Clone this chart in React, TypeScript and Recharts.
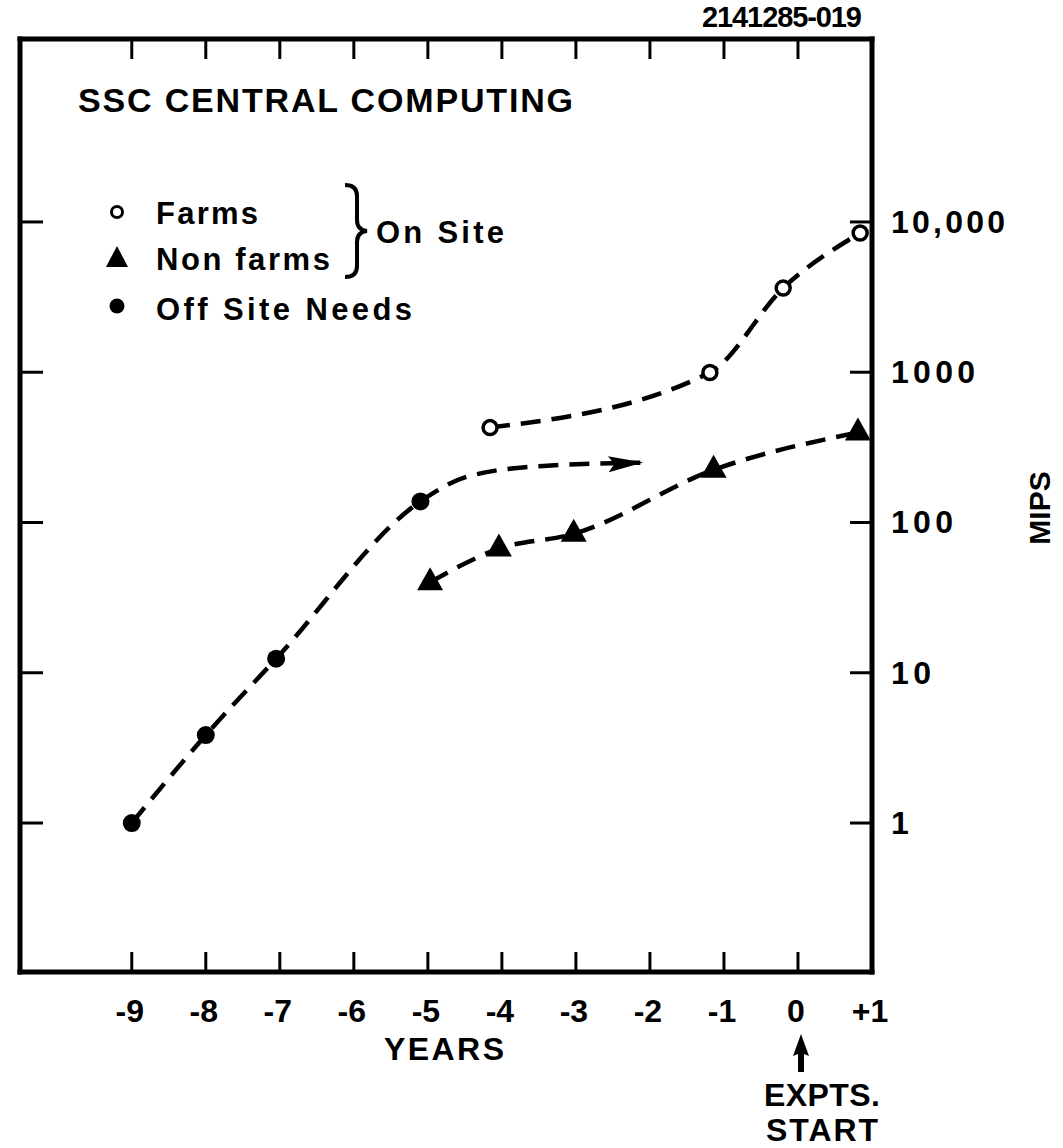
import React from 'react';
import { LineChart, Line, XAxis, YAxis } from 'recharts';

const YEAR_TICKS = [-9, -8, -7, -6, -5, -4, -3, -2, -1, 0, 1];
const YEAR_LABELS = ['-9', '-8', '-7', '-6', '-5', '-4', '-3', '-2', '-1', '0', '+1'];
const MIPS_TICKS = [1, 10, 100, 1000, 10000];
const MIPS_LABELS = ['1', '10', '100', '1000', '10,000'];

const OFF_SITE_YEARS = [-9, -8, -7.05, -5.1, -4.47, -3.44, -2.13];
const OFF_SITE_MIPS = [1, 3.85, 12.4, 138, 202, 238, 250];
const OFF_SITE_MARKS = ['dot', 'dot', 'dot', 'dot', '', '', 'arrow'];

const FARMS_YEARS = [-4.16, -1.19, -0.2, 0.84];
const FARMS_MIPS = [428, 995, 3630, 8440];

const NON_FARMS_YEARS = [-4.97, -4.04, -3.03, -1.14, 0.81];
const NON_FARMS_MIPS = [40, 67, 84, 224, 397];

const W = 1063;
const H = 1148;
const FONT = "'Liberation Sans', Arial, sans-serif";
const INK = '#000';

const offSite = OFF_SITE_YEARS.map((year, i) => ({ year, mips: OFF_SITE_MIPS[i], mark: OFF_SITE_MARKS[i] }));
const farms = FARMS_YEARS.map((year, i) => ({ year, mips: FARMS_MIPS[i], mark: 'ring' }));
const nonFarms = NON_FARMS_YEARS.map((year, i) => ({ year, mips: NON_FARMS_MIPS[i], mark: 'tri' }));

const dash = { stroke: INK, strokeWidth: 4.5, strokeDasharray: '20 11' };

function Marker(props: any) {
  const { cx, cy, payload } = props;
  if (cx == null || cy == null) return null;
  const m = payload?.mark;
  if (m === 'dot') return <circle cx={cx} cy={cy} r={9} fill={INK} />;
  if (m === 'ring') return <circle cx={cx} cy={cy} r={7} fill="#fff" stroke={INK} strokeWidth={3.5} />;
  if (m === 'tri')
    return <polygon points={`${cx},${cy - 15} ${cx + 13},${cy + 8} ${cx - 13},${cy + 8}`} fill={INK} />;
  if (m === 'arrow')
    return (
      <polygon
        points={`${cx + 3},${cy} ${cx - 32},${cy - 8} ${cx - 26},${cy} ${cx - 32},${cy + 8}`}
        fill={INK}
        transform={`rotate(-3 ${cx} ${cy})`}
      />
    );
  return <g />;
}

const txt = { fontFamily: FONT, fontWeight: 700, fill: INK } as const;

function BottomTick(props: any) {
  const { x, y, payload } = props;
  return (
    <g>
      {payload.value !== 1 && <line x1={x} x2={x} y1={y} y2={y - 20} stroke={INK} strokeWidth={3} />}
      <text x={x - 2} y={y + 50} textAnchor="middle" fontSize={32} {...txt}>
        {YEAR_LABELS[YEAR_TICKS.indexOf(payload.value)]}
      </text>
    </g>
  );
}

function TopTick(props: any) {
  const { x, y } = props;
  return <line x1={x} x2={x} y1={y} y2={y + 20} stroke={INK} strokeWidth={3} />;
}

function LeftTick(props: any) {
  const { x, y } = props;
  return <line x1={x} x2={x + 23} y1={y} y2={y} stroke={INK} strokeWidth={3} />;
}

// lettered widths of the right-hand labels (wide, round zeros)
const LABEL_WIDTHS = [0, 40, 62, 84, 114];

function RightTick(props: any) {
  const { x, y, payload } = props;
  const i = MIPS_TICKS.indexOf(payload.value);
  const len = LABEL_WIDTHS[i];
  return (
    <g>
      <line x1={x} x2={x - 22} y1={y} y2={y} stroke={INK} strokeWidth={3} />
      <text
        x={x + 19}
        y={y + 11}
        textAnchor="start"
        fontSize={32}
        {...(len ? { textLength: len, lengthAdjust: 'spacing' } : {})}
        {...txt}
      >
        {MIPS_LABELS[i]}
      </text>
    </g>
  );
}

const frame = { stroke: INK, strokeWidth: 5, strokeLinecap: 'square' as const };
const X_DOMAIN: [number, number] = [-10.51, 1.0];
const Y_DOMAIN: [number, number] = [0.102, 165000];

export default function App() {
  return (
    <div style={{ position: 'absolute', left: 0, top: 0, width: W, height: H, background: '#fff' }}>
      <LineChart width={W} height={H} margin={{ top: 38, left: 19, right: 190, bottom: 175 }}>
        <XAxis
          xAxisId="b"
          dataKey="year"
          type="number"
          domain={X_DOMAIN}
          allowDataOverflow
          ticks={YEAR_TICKS}
          interval={0}
          height={1}
          tickSize={0}
          tickMargin={0}
          axisLine={frame}
          tick={<BottomTick />}
        />
        <XAxis
          xAxisId="t"
          orientation="top"
          dataKey="year"
          type="number"
          domain={X_DOMAIN}
          allowDataOverflow
          ticks={YEAR_TICKS.slice(0, 10)}
          interval={0}
          height={1}
          tickSize={0}
          tickMargin={0}
          axisLine={frame}
          tick={<TopTick />}
        />
        <YAxis
          yAxisId="l"
          scale="log"
          domain={Y_DOMAIN}
          allowDataOverflow
          ticks={MIPS_TICKS}
          interval={0}
          width={1}
          tickSize={0}
          tickMargin={0}
          axisLine={frame}
          tick={<LeftTick />}
        />
        <YAxis
          yAxisId="r"
          orientation="right"
          scale="log"
          domain={Y_DOMAIN}
          allowDataOverflow
          ticks={MIPS_TICKS}
          interval={0}
          width={1}
          tickSize={0}
          tickMargin={0}
          axisLine={frame}
          tick={<RightTick />}
        />
        <Line xAxisId="b" yAxisId="r" data={offSite} dataKey="mips" type="monotone" {...dash}
          dot={(p: any) => <Marker key={`o${p.index}`} {...p} />} activeDot={false} isAnimationActive={false} />
        <Line xAxisId="b" yAxisId="r" data={farms} dataKey="mips" type="monotone" {...dash}
          dot={(p: any) => <Marker key={`f${p.index}`} {...p} />} activeDot={false} isAnimationActive={false} />
        <Line xAxisId="b" yAxisId="r" data={nonFarms} dataKey="mips" type="monotone" {...dash}
          dot={(p: any) => <Marker key={`n${p.index}`} {...p} />} activeDot={false} isAnimationActive={false} />
      </LineChart>

      {/* annotations lettered on the original drawing */}
      <svg width={W} height={H} style={{ position: 'absolute', left: 0, top: 0, pointerEvents: 'none' }}>
        <text x={862} y={27} textAnchor="end" fontSize={29} textLength={160} lengthAdjust="spacing" {...txt}>
          2141285-019
        </text>
        <text x={78} y={112} fontSize={34} textLength={495} lengthAdjust="spacing" {...txt}>
          SSC  CENTRAL  COMPUTING
        </text>

        <circle cx={117} cy={212} r={5.5} fill="#fff" stroke={INK} strokeWidth={3} />
        <text x={156} y={224} fontSize={31} textLength={102} lengthAdjust="spacing" {...txt}>Farms</text>
        <polygon points="117,246 128,267 106,267" fill={INK} />
        <text x={156} y={270} fontSize={31} textLength={174} lengthAdjust="spacing" {...txt}>Non farms</text>
        <circle cx={117} cy={306} r={7.5} fill={INK} />
        <text x={156} y={320} fontSize={31} textLength={256} lengthAdjust="spacing" {...txt}>Off Site Needs</text>
        <path
          d="M 345 185 Q 357 185 357 196 L 357 220 Q 357 230 367 231 Q 357 232 357 242 L 357 266 Q 357 277 345 277"
          fill="none" stroke={INK} strokeWidth={4}
        />
        <text x={376} y={243} fontSize={31} textLength={128} lengthAdjust="spacing" {...txt}>On Site</text>

        <text x={444} y={1060} textAnchor="middle" fontSize={32} textLength={120} lengthAdjust="spacing" {...txt}>YEARS</text>
        <polygon points="801,1034 809,1056 804,1054 804,1072 798,1072 798,1054 793,1056" fill={INK} />
        <text x={822} y={1106} textAnchor="middle" fontSize={32} textLength={116} lengthAdjust="spacing" {...txt}>EXPTS.</text>
        <text x={822} y={1141} textAnchor="middle" fontSize={32} textLength={112} lengthAdjust="spacing" {...txt}>START</text>
        <text transform="translate(1050 508) rotate(-90)" textAnchor="middle" fontSize={30} {...txt}>MIPS</text>
      </svg>
    </div>
  );
}
